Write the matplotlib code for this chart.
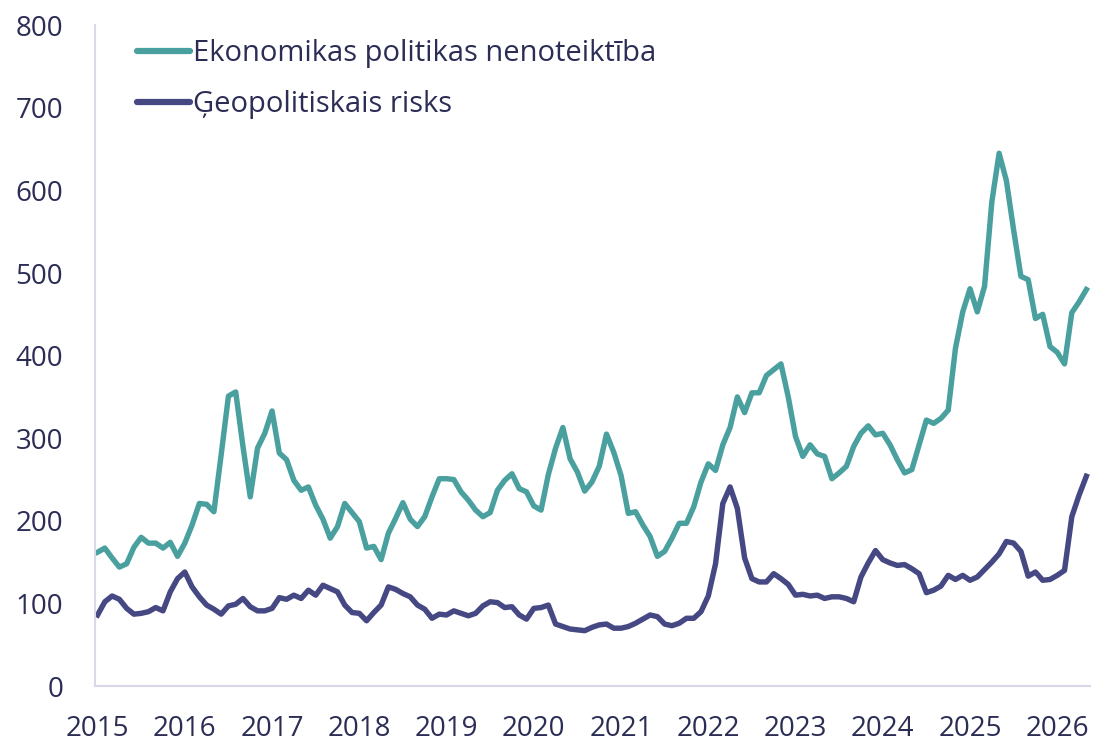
import matplotlib
matplotlib.use("Agg")
import matplotlib.pyplot as plt
import numpy as np

plt.rcParams["font.family"] = ["Open Sans", "DejaVu Sans"]

# ikmēneša dati, 2015. gada janvāris - 2026. gada maijs
epu = [162, 167, 155, 144, 148, 168, 180, 173, 173, 167, 174, 157,
       173, 195, 221, 220, 211, 280, 351, 356, 290, 229, 288, 306,
       333, 282, 274, 249, 237, 241, 219, 202, 179, 193, 221, 210,
       199, 167, 169, 153, 185, 203, 222, 202, 193, 205, 229, 251,
       251, 250, 235, 225, 213, 205, 210, 237, 249, 257, 239, 235,
       218, 213, 256, 288, 313, 275, 259, 236, 247, 266, 305, 283,
       255, 209, 211, 195, 181, 157, 163, 179, 197, 197, 217, 247,
       269, 261, 292, 313, 350, 331, 355, 355, 376, 383, 390, 350,
       302, 278, 292, 281, 278, 251, 258, 266, 290, 306, 315, 304,
       306, 292, 274, 258, 262, 292, 322, 318, 324, 334, 409, 453,
       481, 453, 484, 586, 645, 612, 552, 496, 492, 445, 450, 411,
       404, 390, 452, 465, 480]

gpr = [86, 102, 109, 105, 94, 87, 88, 90, 95, 91, 114, 130,
       138, 120, 108, 98, 93, 87, 97, 99, 106, 96, 91, 91,
       94, 107, 105, 110, 106, 116, 110, 122, 118, 114, 98, 89,
       88, 79, 89, 98, 120, 117, 112, 108, 98, 93, 82, 87,
       86, 91, 88, 85, 88, 97, 102, 101, 95, 96, 86, 81,
       94, 95, 98, 75, 72, 69, 68, 67, 71, 74, 75, 70,
       70, 72, 76, 81, 86, 84, 75, 73, 76, 82, 82, 90,
       109, 148, 221, 241, 215, 155, 130, 126, 126, 136, 130, 123,
       110, 111, 109, 110, 106, 108, 108, 106, 102, 132, 149, 164,
       153, 149, 146, 147, 142, 136, 113, 116, 121, 134, 129, 134,
       128, 132, 141, 150, 160, 175, 173, 163, 133, 138, 128, 129,
       134, 140, 205, 231, 254]

years = [str(y) for y in range(2015, 2027)]
labels = ["Ekonomikas politikas nenoteiktība", "Ģeopolitiskais risks"]

teal = "#4aa09f"
purple = "#464884"
txt = "#2b2d55"
axcol = "#d8d8ea"

x = np.arange(len(epu))

fig = plt.figure(figsize=(10.96, 7.43), dpi=100)
ax = fig.add_axes([0.0867, 0.0767, 0.9078, 0.8893])

ax.plot(x, epu, color=teal, lw=3.9, solid_joinstyle="round", label=labels[0])
ax.plot(x, gpr, color=purple, lw=3.9, solid_joinstyle="round", label=labels[1])

ax.set_ylim(0, 800)
ax.set_xlim(-0.35, 136.5)
ax.set_yticks(range(0, 801, 100))
ax.set_xticks(range(0, len(epu), 12))
ax.set_xticklabels(years)

for s in ["top", "right"]:
    ax.spines[s].set_visible(False)
for s in ["left", "bottom"]:
    ax.spines[s].set_color(axcol)
    ax.spines[s].set_linewidth(1.5)

ax.tick_params(axis="both", length=0, labelsize=20, colors=txt)
ax.tick_params(axis="y", pad=23)
ax.tick_params(axis="x", pad=21)

leg = ax.legend(loc="upper left", bbox_to_anchor=(0.03, 0.997), frameon=False,
                fontsize=21, handlelength=1.85, handletextpad=0.1,
                labelspacing=0.75, borderaxespad=0)
for t in leg.get_texts():
    t.set_color(txt)
for h in leg.get_lines():
    h.set_linewidth(4.5)
    h.set_solid_capstyle("round")

fig.savefig("out.png", dpi=100)
